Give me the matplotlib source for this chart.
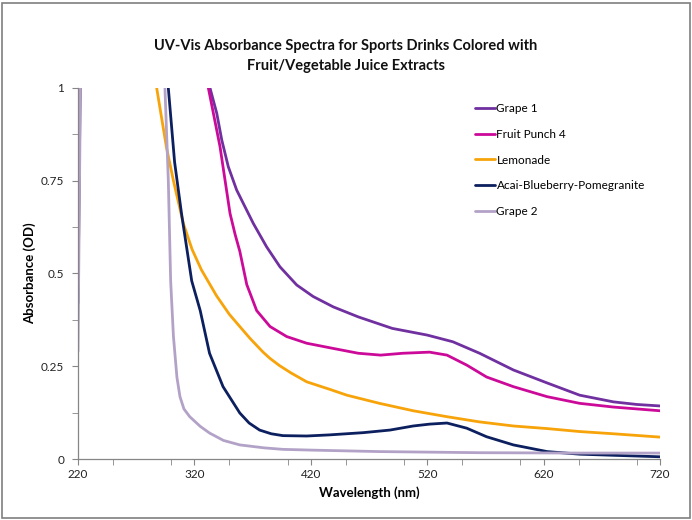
import matplotlib
matplotlib.use("Agg")
import matplotlib.pyplot as plt
from matplotlib.ticker import MultipleLocator
from matplotlib.patches import Rectangle

plt.rcParams['font.family'] = ['Lato', 'DejaVu Sans']

title = "UV-Vis Absorbance Spectra for Sports Drinks Colored with\nFruit/Vegetable Juice Extracts"
x_label = "Wavelength (nm)"
y_label = "Absorbance (OD)"
x_ticks = [220, 320, 420, 520, 620, 720]
y_ticks = [0, 0.25, 0.5, 0.75, 1]
y_tick_labels = ["0", "0.25", "0.5", "0.75", "1"]

series_names = ["Grape 1", "Fruit Punch 4", "Lemonade", "Acai-Blueberry-Pomegranite", "Grape 2"]

grape1_x = [220, 225, 300, 326, 333.4, 339.2, 343.5, 349.1, 356.3, 362, 370.6, 382, 393.5, 407.9, 422, 439.3, 460.8, 490, 520, 542, 565, 594, 623, 651, 680, 700, 720]
grape1_y = [0.60, 2.0, 2.5, 1.2, 1.0, 0.932, 0.86, 0.788, 0.725, 0.689, 0.635, 0.572, 0.518, 0.469, 0.438, 0.41, 0.383, 0.352, 0.334, 0.316, 0.285, 0.24, 0.205, 0.172, 0.154, 0.147, 0.143]

punch_x = [220, 225, 300, 326, 332, 336.3, 342, 346.3, 350.6, 355, 359, 365, 373.5, 385, 399.3, 416.5, 439.3, 460.8, 480, 499, 522, 537, 554, 571, 594, 623, 651, 680, 720]
punch_y = [0.55, 2.0, 2.5, 1.2, 1.0, 0.932, 0.842, 0.752, 0.662, 0.605, 0.56, 0.47, 0.40, 0.357, 0.33, 0.312, 0.298, 0.285, 0.28, 0.285, 0.288, 0.28, 0.253, 0.221, 0.195, 0.168, 0.15, 0.14, 0.13]

lemonade_x = [220, 225, 250, 280, 287.6, 296, 302, 310.5, 318, 326, 339, 350, 359, 367.8, 379, 385, 393, 403, 416.5, 437, 451, 479, 508, 537, 565, 594, 623, 651, 680, 720]
lemonade_y = [0.50, 2.0, 2.5, 1.3, 1.0, 0.84, 0.75, 0.635, 0.565, 0.51, 0.44, 0.39, 0.357, 0.325, 0.288, 0.271, 0.252, 0.232, 0.208, 0.187, 0.172, 0.15, 0.13, 0.114, 0.1, 0.089, 0.082, 0.074, 0.068, 0.059]

acai_x = [220, 225, 250, 290, 297.6, 303, 309, 317.7, 325, 333, 344.6, 359, 367, 376, 386, 396, 416.5, 436, 465, 488, 508, 522, 537, 554, 571, 594, 623, 651, 680, 720]
acai_y = [0.42, 2.0, 2.5, 1.3, 1.0, 0.80, 0.66, 0.48, 0.40, 0.285, 0.195, 0.124, 0.097, 0.078, 0.068, 0.063, 0.062, 0.065, 0.071, 0.078, 0.089, 0.094, 0.097, 0.083, 0.06, 0.038, 0.02, 0.013, 0.01, 0.006]

grape2_x = [220, 225, 250, 285, 294.7, 297.6, 299.6, 302, 305, 307.6, 311, 316, 325, 333, 345, 359, 380, 396, 420, 479, 565, 651, 720]
grape2_y = [0.29, 2.0, 2.5, 1.4, 1.0, 0.75, 0.48, 0.33, 0.22, 0.168, 0.135, 0.114, 0.088, 0.07, 0.05, 0.038, 0.03, 0.026, 0.024, 0.02, 0.017, 0.016, 0.016]

colors = ["#7030A0", "#CC0A99", "#F7A30A", "#0C1F5E", "#B3A2C7"]

fig = plt.figure(figsize=(6.92, 5.2), dpi=100)
ax = fig.add_axes([0.1127, 0.1173, 0.8411, 0.7135])

data = [(grape1_x, grape1_y), (punch_x, punch_y), (lemonade_x, lemonade_y),
        (acai_x, acai_y), (grape2_x, grape2_y)]
for (xs, ys), name, c in zip(data, series_names, colors):
    ax.plot(xs, ys, color=c, lw=2.0, label=name, solid_capstyle='round', solid_joinstyle='round')

ax.set_xlim(220, 720)
ax.set_ylim(0, 1)
ax.set_xticks(x_ticks)
ax.set_yticks(y_ticks)
ax.set_yticklabels(y_tick_labels)
ax.xaxis.set_minor_locator(MultipleLocator(50))
ax.yaxis.set_minor_locator(MultipleLocator(0.125))

for s in ["top", "right"]:
    ax.spines[s].set_visible(False)
for s in ["left", "bottom"]:
    ax.spines[s].set_color("#868686")
    ax.spines[s].set_linewidth(0.9)
ax.tick_params(which="both", color="#868686", direction="out", labelsize=8.5, labelcolor="#222222")
ax.tick_params(which="major", length=4)
ax.tick_params(which="minor", length=4)
ax.tick_params(axis="x", pad=3)
ax.tick_params(axis="y", pad=6)

ax.set_xlabel(x_label, fontsize=9.5, fontweight="bold", labelpad=5)
ax.set_ylabel(y_label, fontsize=9.5, fontweight="bold", labelpad=3)

fig.text(0.5, 0.892, title, ha="center", va="center", fontsize=10.5, fontweight="bold",
         linespacing=1.5, color="#111111")

leg = ax.legend(loc="upper left", bbox_to_anchor=(0.674, 0.972), frameon=False,
                fontsize=8.5, handlelength=1.7, handletextpad=0.12, labelspacing=1.25,
                borderaxespad=0)

fig.patches.append(Rectangle((0.003, 0.003), 0.994, 0.992, transform=fig.transFigure,
                             fill=False, edgecolor="#7f7f7f", lw=1.2))

fig.savefig("out.png", dpi=100)
